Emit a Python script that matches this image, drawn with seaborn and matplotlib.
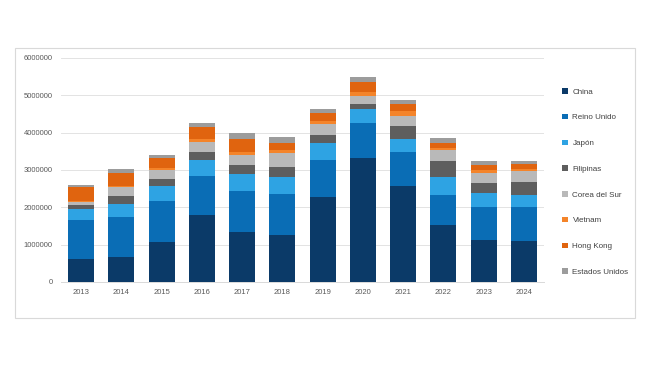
import numpy as np
import pandas as pd
import matplotlib
matplotlib.use("Agg")
import matplotlib.pyplot as plt
from matplotlib.patches import Patch, Rectangle
import seaborn as sns

plt.rcParams["font.family"] = ["Liberation Sans", "DejaVu Sans"]

# --- datos ---
anios = ["2013", "2014", "2015", "2016", "2017", "2018",
         "2019", "2020", "2021", "2022", "2023", "2024"]
paises = ["China", "Reino Unido", "Japón", "Filipinas",
          "Corea del Sur", "Vietnam", "Hong Kong", "Estados Unidos"]

china = [620000, 680000, 1070000, 1800000, 1340000, 1270000,
         2290000, 3330000, 2560000, 1540000, 1130000, 1100000]
reino_unido = [1040000, 1070000, 1100000, 1040000, 1100000, 1090000,
               980000, 940000, 910000, 800000, 890000, 900000]
japon = [300000, 340000, 400000, 430000, 460000, 460000,
         460000, 370000, 370000, 480000, 360000, 340000]
filipinas = [90000, 220000, 180000, 220000, 240000, 270000,
             210000, 140000, 340000, 410000, 280000, 350000]
corea = [100000, 230000, 250000, 260000, 270000, 360000,
         290000, 210000, 270000, 310000, 270000, 270000]
vietnam = [30000, 40000, 50000, 80000, 80000, 80000,
           90000, 100000, 130000, 60000, 80000, 80000]
hong_kong = [360000, 350000, 260000, 330000, 340000, 200000,
             200000, 280000, 190000, 120000, 130000, 120000]
eeuu = [60000, 100000, 90000, 110000, 160000, 150000,
        120000, 110000, 110000, 130000, 90000, 90000]

colores = ["#0B3A68", "#0A6DB5", "#2EA3E3", "#5E5E5E",
           "#B9B9B9", "#F4842A", "#E0640F", "#9C9C9C"]

series = [china, reino_unido, japon, filipinas, corea, vietnam, hong_kong, eeuu]
acumulado = np.cumsum(np.array(series), axis=0)

fig = plt.figure(figsize=(6.5, 3.66), dpi=100)
ax = fig.add_axes([61 / 650, 1 - 282 / 366, 483 / 650, 224 / 366])

# marco exterior gris claro
fig.patches.append(Rectangle((15 / 650, 1 - 318 / 366), 620 / 650, 270 / 366,
                             transform=fig.transFigure, fill=False,
                             edgecolor="#D9D9D9", linewidth=0.8, zorder=0))

# barras apiladas: se dibujan de arriba hacia abajo
for i in range(len(series) - 1, -1, -1):
    df = pd.DataFrame({"anio": anios, "valor": acumulado[i]})
    sns.barplot(data=df, x="anio", y="valor", color=colores[i],
                width=0.65, saturation=1, ax=ax, zorder=3)

ax.set_xlim(-0.5, 11.5)
ax.set_ylim(0, 6000000)
ax.set_yticks(np.arange(0, 6000001, 1000000))
ax.set_yticklabels([str(v) for v in range(0, 6000001, 1000000)])
ax.grid(axis="y", color="#E3E3E3", linewidth=0.7, zorder=0)
ax.set_axisbelow(True)
ax.set_xlabel("")
ax.set_ylabel("")
for s in ["top", "right", "left"]:
    ax.spines[s].set_visible(False)
ax.spines["bottom"].set_color("#D9D9D9")
ax.spines["bottom"].set_linewidth(0.7)
ax.tick_params(axis="both", length=0, labelsize=5.5, labelcolor="#595959")
ax.tick_params(axis="y", pad=6)
ax.tick_params(axis="x", pad=5)

handles = [Patch(facecolor=c, edgecolor="none") for c in colores]
fig.legend(handles, paises, loc="upper left",
           bbox_to_anchor=(558 / 650, 1 - 84 / 366), frameon=False,
           fontsize=5.8, labelcolor="#404040", handlelength=0.7,
           handleheight=0.7, handletextpad=0.6, labelspacing=2.25,
           borderpad=0)

fig.savefig("out.png", dpi=100)
